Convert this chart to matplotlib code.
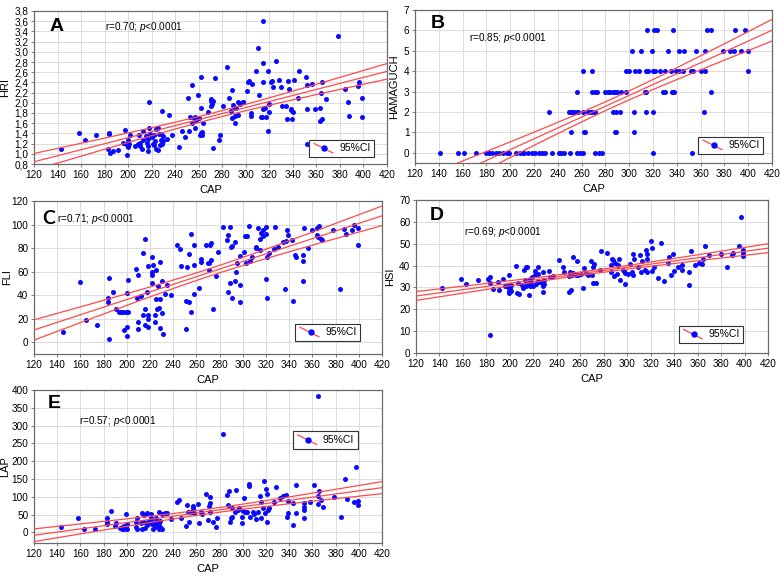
import numpy as np
import matplotlib
matplotlib.use("Agg")
import matplotlib.pyplot as plt
from matplotlib.lines import Line2D
from matplotlib.legend_handler import HandlerBase
from matplotlib.ticker import FuncFormatter

plt.rcParams['font.family'] = ['Liberation Sans', 'DejaVu Sans']
plt.rcParams['mathtext.fontset'] = 'custom'
plt.rcParams['mathtext.it'] = 'Liberation Sans:italic'
plt.rcParams['mathtext.rm'] = 'Liberation Sans'

# ---- panel A : HRI vs CAP ----
a_cap = [143, 158, 163, 173, 183, 184, 184, 185, 187, 191, 196, 197, 198, 199, 200, 200, 200, 202, 201,
         206, 208, 209, 210, 210, 212, 213, 213, 215, 216, 217, 217, 217, 218, 218, 219, 220, 221, 222,
         222, 223, 224, 224, 225, 225, 226, 227, 228, 228, 229, 229, 230, 230, 233, 235, 237,
         243, 246, 248, 251, 252, 253, 254, 254, 256, 257, 257, 258, 259, 260, 261, 262, 262, 262, 263,
         263, 264, 268, 270, 270, 270, 271, 272, 272, 274, 277, 278, 281, 284, 286, 287, 288, 288, 289,
         290, 291, 291, 292, 293, 293, 295, 298, 298,
         301, 302, 303, 304, 304, 305, 309, 310, 311, 313, 314, 315, 315, 315, 315, 316, 317, 319, 319,
         320, 320, 321, 322, 323, 326, 328, 330, 331, 334, 335, 336, 337, 338, 338, 339, 340, 341, 344,
         345, 351, 352, 352, 352, 356, 359, 363, 363, 364, 365, 365, 368, 378, 384, 387, 388, 395, 396,
         399, 399]
a_hri = [1.10, 1.40, 1.27, 1.37, 1.09, 1.41, 1.38, 1.02, 1.05, 1.07, 1.22, 1.47, 1.19, 0.98, 1.17, 1.13,
         1.27, 1.37, 1.20,
         1.16, 1.19, 1.36, 1.15, 1.22, 1.10, 1.44, 1.27, 1.35, 1.22, 1.15, 1.05, 1.30, 1.50, 2.02, 1.38,
         1.33, 1.20, 1.18, 1.37, 1.25, 1.48, 1.10, 1.07, 1.50, 1.38, 1.17, 1.28, 1.38, 1.83, 1.20, 1.35,
         1.25, 1.30, 1.76, 1.36,
         1.14, 1.45, 1.32, 2.10, 1.44, 1.72, 2.34, 1.60, 1.70, 1.72, 1.50, 1.67, 2.16, 1.70, 1.37, 1.40,
         2.50, 1.89, 1.43, 1.37, 1.60, 1.81, 2.08, 2.04, 1.93, 1.97, 2.03, 1.11, 2.49, 1.28, 1.37, 1.93,
         2.71, 2.10, 1.84, 1.70, 2.25, 1.95, 1.92, 1.61, 1.75, 1.89, 1.76, 2.01, 1.98, 2.01, 2.02,
         2.23, 2.40, 2.43, 1.80, 1.75, 2.36, 2.62, 3.07, 2.15, 1.72, 1.73, 3.60, 2.78, 2.40, 1.87, 1.90,
         1.73, 1.45, 2.62, 1.98, 1.81, 2.41, 2.43, 2.31, 2.81, 2.44, 2.31, 1.93, 1.93, 1.68, 2.43, 2.28,
         1.88, 1.85, 1.68, 1.82, 2.45, 2.10, 2.62, 2.50, 2.34, 1.88, 1.19, 2.37, 1.88, 1.89, 1.65, 2.20,
         2.40, 1.68, 2.07, 3.31, 2.28, 2.02, 1.74, 2.32, 2.40, 2.10, 1.72]

# ---- panel B : HAMAGUCH vs CAP (score levels) ----
b_cap_0 = [141, 156, 161, 171, 180, 182, 185, 188, 191, 194, 197, 199, 205, 208, 211, 212, 215, 218,
           221, 224, 227, 229, 235, 241, 243, 245, 250, 256, 259, 261, 271, 275, 277, 320, 353]
b_cap_1 = [251, 262, 263, 288, 289, 304]
b_cap_2 = [233, 249, 251, 252, 254, 256, 257, 261, 265, 267, 269, 271, 286, 289, 292, 304, 314, 320, 363]
b_cap_3 = [256, 269, 271, 273, 280, 282, 284, 286, 288, 290, 293, 297, 313, 314, 328, 330, 336, 338, 369]
b_cap_4 = [261, 269, 297, 300, 305, 308, 314, 316, 320, 322, 326, 330, 335, 339, 342, 345, 352, 354,
           360, 364, 400]
b_cap_5 = [302, 310, 319, 333, 342, 346, 356, 364, 379, 385, 388, 394, 400]
b_cap_6 = [315, 321, 323, 337, 365, 369, 389, 397]

# ---- panel C : FLI vs CAP ----
c_cap = [145, 160, 165, 174, 184, 184, 185, 185, 188, 191, 193, 195, 197, 198, 199, 200, 200, 200, 201,
         201, 208, 209, 210, 210, 210, 212, 214, 214, 216, 216, 216, 217, 218, 218, 218, 218, 222, 222,
         222, 222, 223, 224, 224, 225, 225, 226, 227, 228, 229, 229, 229, 230, 230, 231, 233, 235, 238,
         243, 246, 247, 251, 251, 252, 254, 254, 255, 255, 258, 258, 258, 262, 264, 264, 268, 270, 271,
         271, 272, 273, 273, 274, 277, 279, 283, 286, 287, 287, 289, 289, 290, 291, 291, 293, 293, 294,
         295, 298, 298, 298, 301, 302, 303, 304, 305, 306, 308, 311, 311, 313, 315, 315, 316, 317, 317,
         320, 320, 320, 321, 321, 323, 327, 328, 330, 335, 336, 337, 338, 339, 342, 343, 345, 346, 352,
         352, 352, 353, 356, 360, 364, 364, 365, 366, 367, 368, 378, 384, 387, 389, 394, 396, 399, 399]
c_fli = [9, 51, 19, 15, 38, 34, 55, 3, 43, 28, 26, 26, 26, 10, 26, 5, 13, 42, 53,
         26, 62, 38, 17, 57, 11, 39, 76, 23, 88, 28, 15, 43, 23, 13, 65, 20, 72, 60,
         50, 57, 66, 23, 17, 61, 37, 28, 48, 29, 12, 37, 68, 52, 25, 7, 41, 49, 40,
         83, 79, 65, 35, 11, 64, 34, 75, 26, 92, 83, 41, 66, 46, 68, 71, 83, 67, 67,
         61, 83, 84, 70, 28, 56, 77, 98, 87, 91, 43, 98, 50, 81, 82, 38, 85, 52, 60,
         67, 73, 49, 34, 77, 90, 67, 90, 99, 69, 72, 81, 80, 97, 78, 88, 93, 90, 95,
         98, 92, 54, 38, 72, 76, 79, 98, 81, 85, 45, 86, 95, 91, 87, 35, 74, 72, 69,
         74, 52, 97, 80, 95, 91, 97, 89, 99, 88, 87, 95, 45, 96, 92, 95, 100, 97, 83]

# ---- panel D : HSI vs CAP ----
d_cap = [142, 158, 163, 173, 181, 183, 183, 183, 186, 190, 191, 194, 196, 198, 199, 199, 199, 199, 200,
         201, 201, 205, 206, 207, 208, 210, 211, 212, 213, 214, 214, 215, 216, 216, 217, 217, 218, 219,
         220, 221, 221, 222, 223, 224, 224, 225, 226, 227, 228, 228, 228, 229, 229, 233, 234, 237, 242,
         245, 246, 250, 250, 251, 252, 253, 254, 254, 256, 257, 258, 261, 262, 263, 265, 267, 269, 270,
         271, 271, 272, 273, 277, 278, 283, 286, 286, 287, 288, 289, 290, 291, 292, 293, 294, 296, 297,
         298, 298, 301, 302, 304, 305, 305, 306, 309, 311, 312, 313, 315, 316, 317, 317, 317, 320, 321,
         321, 323, 326, 329, 331, 335, 336, 337, 339, 340, 343, 347, 347, 353, 353, 354, 358, 361, 364,
         365, 366, 370, 380, 385, 389, 390, 395, 397, 399, 399, 399]
d_hsi = [29.9, 33.7, 31.4, 33.6, 33.9, 34.9, 31.9, 8.1, 29.3, 32.6, 28.8, 33.7, 30.5, 30.2, 31.0, 28.5,
         27.6, 35.7, 29.7, 31.1, 28.5, 39.7, 27.6, 31.9, 27.1, 31.3, 29.7, 37.8, 33.4, 39.5, 30.5, 39.2,
         32.0, 26.5, 34.0, 30.7, 32.6, 34.6, 30.7, 35.8, 37.5, 31.4, 32.6, 39.3, 36.3, 32.6, 32.5, 31.9,
         27.9, 30.5, 37.1, 31.7, 33.4, 37.4, 34.8, 35.4, 42.5, 39.2, 36.9, 28.1, 35.1, 37.1, 28.8, 35.8,
         43.8, 36.8, 35.7, 41.9, 35.5, 36.0, 29.7, 38.7, 36.6, 35.8, 42.2, 35.8, 31.9, 39.2, 40.9, 31.9,
         37.8, 46.5, 45.9, 40.4, 37.1, 43.2, 42.4, 35.1, 41.0, 36.3, 40.4, 42.9, 33.6, 37.8, 37.4, 31.4,
         36.4, 36.0, 40.7, 37.1, 45.3, 35.8, 42.9, 39.3, 45.0, 37.1, 42.2, 37.8, 47.3, 45.3, 43.2, 37.1,
         51.4, 48.0, 37.4, 39.3, 34.2, 50.2, 33.1, 41.2, 43.8, 35.5, 45.3, 37.4, 39.2, 37.8, 40.4, 37.1,
         31.1, 46.5, 40.4, 41.0, 40.7, 43.2, 49.0, 44.7, 45.3, 39.5, 45.0, 45.9, 49.0, 62.4, 47.1, 45.8,
         44.2]

# ---- panel E : LAP vs CAP ----
e_cap = [143, 158, 163, 173, 183, 183, 183, 186, 190, 191, 194, 196, 196, 198, 198, 199, 199, 200, 200,
         208, 208, 209, 209, 212, 213, 213, 215, 215, 216, 217, 217, 218, 221, 221, 221, 222, 223, 223,
         224, 224, 225, 226, 226, 228, 228, 228, 229, 229, 230, 230, 233, 235, 238, 243, 245, 247, 251,
         252, 253, 254, 255, 257, 257, 258, 261, 262, 264, 265, 268, 270, 271, 272, 272, 272, 274, 277,
         278, 283, 286, 287, 288, 289, 290, 291, 291, 293, 294, 296, 297, 299, 299, 300, 301, 302, 304,
         305, 305, 306, 309, 310, 311, 313, 315, 316, 316, 317, 318, 319, 320, 321, 321, 322, 323, 327,
         329, 332, 335, 337, 338, 339, 339, 343, 343, 346, 346, 353, 353, 353, 353, 358, 361, 365, 365,
         365, 366, 367, 369, 379, 385, 388, 390, 396, 398, 399, 399]
e_lap = [15, 39, 9, 9, 22, 30, 39, 61, 18, 25, 13, 16, 8, 19, 8, 15, 52, 9, 24,
         30, 14, 39, 9, 25, 54, 9, 49, 30, 13, 20, 55, 30, 51, 33, 41, 22, 25, 9,
         30, 16, 39, 30, 22, 25, 9, 57, 33, 16, 9, 51, 54, 54, 38, 85, 91, 39, 17,
         77, 58, 30, 56, 68, 75, 53, 79, 27, 58, 51, 107, 35, 75, 58, 99, 82, 30, 16,
         39, 277, 105, 77, 115, 30, 39, 68, 44, 56, 120, 63, 68, 27, 44, 60, 96, 56, 58,
         129, 135, 44, 58, 51, 37, 58, 103, 39, 85, 68, 145, 54, 122, 109, 30, 63, 68, 85,
         127, 96, 103, 105, 44, 88, 54, 83, 21, 133, 54, 83, 41, 62, 72, 84, 134, 101, 383,
         79, 116, 90, 72, 98, 43, 151, 93, 85, 183, 88, 78]

BLUE = '#0a0aff'
RED = '#ff4a4a'


class CIHandler(HandlerBase):
    # red diagonal line with a blue dot, like the STATISTICA legend key
    def create_artists(self, legend, orig_handle, xdescent, ydescent, width, height, fontsize, trans):
        x0, y0 = -xdescent, -ydescent
        ln = Line2D([x0 + 0.05 * width, x0 + 0.95 * width], [y0 + 1.1 * height, y0 - 0.2 * height],
                    color=RED, lw=0.9, transform=trans)
        dot = Line2D([x0 + 0.55 * width], [y0 + 0.45 * height], marker='o', ms=3.6, color=BLUE,
                     ls='none', transform=trans)
        return [ln, dot]


def panel(ax, x, y, ylab, ylab_x, ylim, yticks, letter, stat_text, stat_pos, leg_loc, leg_anchor,
          letter_font='Liberation Sans', comma=False):
    x = np.asarray(x, float)
    y = np.asarray(y, float)
    ax.scatter(x, y, s=13, c=BLUE, linewidths=0, zorder=3)

    # least squares line + 95% confidence band of the mean
    b, a = np.polyfit(x, y, 1)
    n = len(x)
    resid = y - (a + b * x)
    s = np.sqrt(np.sum(resid ** 2) / (n - 2))
    sxx = np.sum((x - x.mean()) ** 2)
    xx = np.linspace(110, 430, 200)
    fit = a + b * xx
    half = 1.975 * s * np.sqrt(1.0 / n + (xx - x.mean()) ** 2 / sxx)
    for yy in (fit + half, fit, fit - half):
        ax.plot(xx, yy, color=RED, lw=0.9, zorder=4)

    ax.set_xlim(120, 420)
    ax.set_xticks(np.arange(120, 421, 20))
    ax.set_ylim(*ylim)
    ax.set_yticks(yticks)
    if comma:
        ax.yaxis.set_major_formatter(FuncFormatter(lambda v, p: ('%.1f' % v).replace('.', ',')))
    ax.grid(True, color='#d6d6d6', lw=0.6)
    ax.set_axisbelow(True)
    for sp in ax.spines.values():
        sp.set_color('#6a6a6a')
        sp.set_linewidth(0.9)
    ax.tick_params(labelsize=7.2, length=2.5, width=0.6, color='#6a6a6a', pad=1.5)
    ax.set_xlabel('CAP', fontsize=8, labelpad=4)
    ax.set_ylabel(ylab, fontsize=8)
    ax.yaxis.set_label_coords(ylab_x, 0.5)

    ax.text(*letter_pos[letter], letter, transform=ax.transAxes, fontsize=14, fontweight='bold',
            family=letter_font, va='center', ha='left')
    ax.text(stat_pos[0], stat_pos[1], stat_text, transform=ax.transAxes, fontsize=7.2,
            va='center', ha='left')

    key = Line2D([], [], color=RED)
    leg = ax.legend([key], ['95%CI'], handler_map={Line2D: CIHandler()}, loc=leg_loc,
                    bbox_to_anchor=leg_anchor, fontsize=7.5, fancybox=False, framealpha=1,
                    edgecolor='#333333', handlelength=2.0, borderaxespad=0, borderpad=0.35,
                    handletextpad=0.5)
    leg.get_frame().set_linewidth(0.8)


letter_pos = {'A': (0.045, 0.90), 'B': (0.045, 0.91), 'C': (0.025, 0.885),
              'D': (0.04, 0.90), 'E': (0.04, 0.915)}

fig = plt.figure(figsize=(7.81, 5.74), dpi=100)
W, H = 781.0, 574.0


def axes_px(l, r, t, b):
    return fig.add_axes([l / W, 1 - b / H, (r - l) / W, (b - t) / H])


axA = axes_px(34, 387, 11, 164)
panel(axA, a_cap, a_hri, 'HRI', -0.068, (0.8, 3.8), np.arange(0.8, 3.81, 0.2), 'A',
      r'r=0.70; $\mathit{p}$<0.0001', (0.2, 0.895), 'lower right', (0.963, 0.045), comma=True)

b_cap = b_cap_0 + b_cap_1 + b_cap_2 + b_cap_3 + b_cap_4 + b_cap_5 + b_cap_6
b_ham = ([0] * len(b_cap_0) + [1] * len(b_cap_1) + [2] * len(b_cap_2) + [3] * len(b_cap_3)
         + [4] * len(b_cap_4) + [5] * len(b_cap_5) + [6] * len(b_cap_6))
axB = axes_px(415, 772, 10, 163)
panel(axB, b_cap, b_ham, 'HAMAGUCH', -0.045, (-0.5, 7), np.arange(0, 8, 1), 'B',
      r'r=0.85; $\mathit{p}$<0.0001', (0.15, 0.82), 'lower right', (0.975, 0.06))

axC = axes_px(34, 382, 201, 354)
panel(axC, c_cap, c_fli, 'FLI', -0.063, (-10, 120), np.arange(0, 121, 20), 'C',
      r'r=0.71; $\mathit{p}$<0.0001', (0.065, 0.88), 'lower right', (0.937, 0.085),
      letter_font='Lato')

axD = axes_px(416, 768, 200, 353)
panel(axD, d_cap, d_hsi, 'HSI', -0.06, (0, 70), np.arange(0, 71, 10), 'D',
      r'r=0.69; $\mathit{p}$<0.0001', (0.135, 0.79), 'lower right', (0.93, 0.065))

axE = axes_px(34, 382, 390, 543)
panel(axE, e_cap, e_lap, 'LAP', -0.068, (-30, 400), np.arange(0, 401, 50), 'E',
      r'r=0.57; $\mathit{p}$<0.0001', (0.13, 0.8), 'upper right', (0.93, 0.73))

fig.savefig('out.png', dpi=100)
